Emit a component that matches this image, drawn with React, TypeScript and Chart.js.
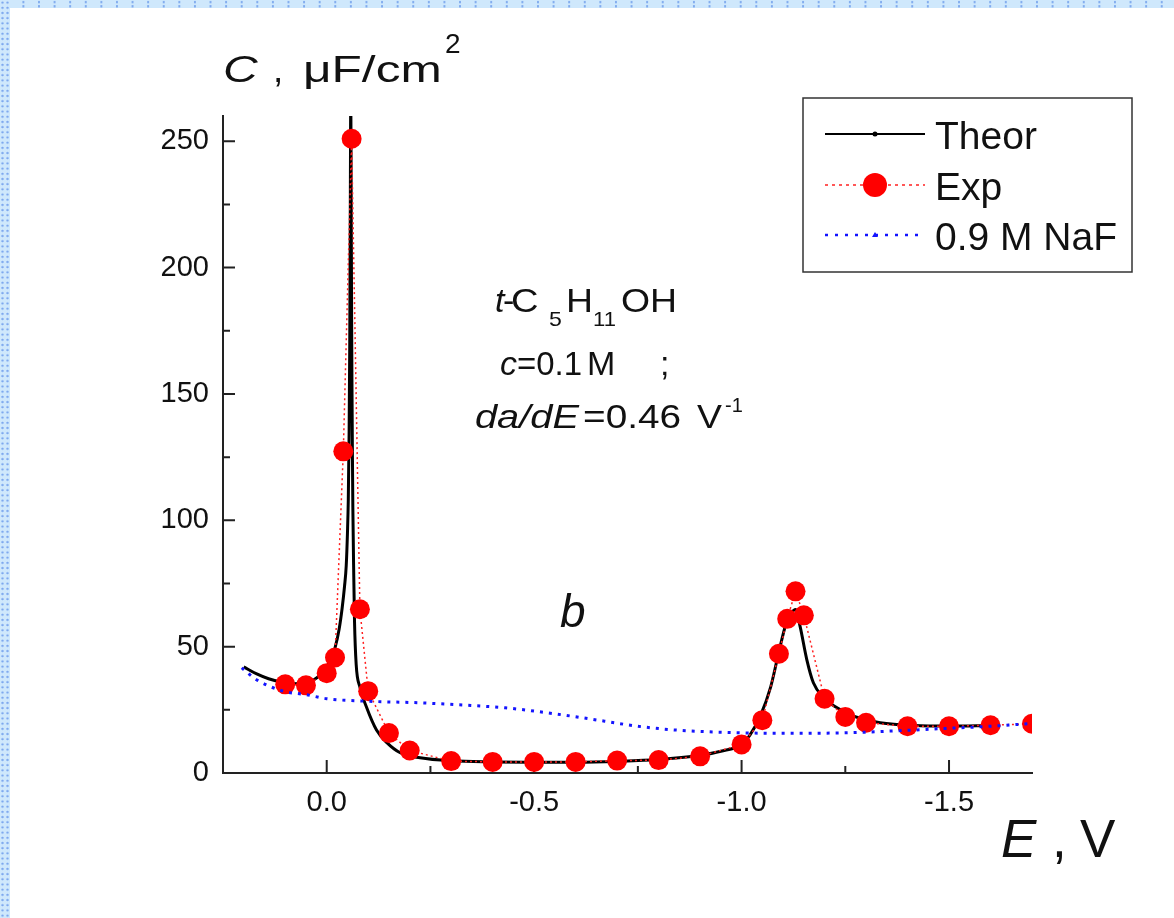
import React, { useEffect, useRef } from "react";
import { Chart, registerables } from "chart.js";

Chart.register(...registerables);

const FONT = "'Liberation Sans', Arial, Helvetica, sans-serif";

// Theoretical curve (E, V ; C, uF/cm2)
const THEOR_E = [0.2, 0.17, 0.14, 0.11, 0.08, 0.05, 0.03, 0.015, 0.0, -0.01, -0.02, -0.03, -0.037, -0.043, -0.047, -0.05, -0.052, -0.054, -0.0555, -0.057, -0.058, -0.059, -0.06, -0.061, -0.062, -0.063, -0.065, -0.067, -0.071, -0.08, -0.096, -0.12, -0.145, -0.177, -0.225, -0.3, -0.4, -0.5, -0.6, -0.7, -0.8, -0.9, -0.95, -1.0, -1.02, -1.045, -1.07, -1.09, -1.107, -1.121, -1.13, -1.141, -1.157, -1.173, -1.198, -1.23, -1.27, -1.334, -1.415, -1.5, -1.6];
const THEOR_C = [42, 39.3, 37.3, 36, 35.3, 35.8, 37, 39, 42, 45, 49.5, 57, 65, 74, 82, 95, 108, 135, 170, 230, 270, 230, 180, 150, 125, 105, 80, 60, 43, 34, 26, 17, 12, 8, 6, 4.8, 4.4, 4.3, 4.3, 4.6, 5.3, 7.0, 8.6, 11.3, 15, 22.5, 34, 48, 59, 63.5, 64.7, 58, 45, 35.7, 29.8, 25.8, 22.5, 19.9, 18.8, 18.6, 18.8];

// Experimental points
const EXP_E = [0.1, 0.05, 0.0, -0.02, -0.04, -0.06, -0.08, -0.1, -0.15, -0.2, -0.3, -0.4, -0.5, -0.6, -0.7, -0.8, -0.9, -1.0, -1.05, -1.09, -1.11, -1.13, -1.15, -1.2, -1.25, -1.3, -1.4, -1.5, -1.6, -1.7];
const EXP_C = [35.1, 34.7, 39.5, 45.7, 127.3, 251, 64.8, 32.4, 15.8, 8.9, 4.7, 4.4, 4.4, 4.4, 4.9, 5.1, 6.6, 11.3, 20.9, 47.2, 61.0, 71.9, 62.4, 29.4, 22.2, 19.9, 18.5, 18.5, 18.9, 19.5];

// 0.9 M NaF background curve
const NAF_E = [0.205, 0.17, 0.105, 0.05, 0.0, -0.1, -0.22, -0.35, -0.43, -0.5, -0.59, -0.67, -0.75, -0.85, -1.0, -1.1, -1.25, -1.4, -1.5, -1.6, -1.7];
const NAF_C = [41.6, 37, 32.4, 31, 29.4, 28.4, 27.8, 26.7, 25.8, 24.5, 22.5, 20.5, 18.5, 16.9, 15.9, 15.7, 15.9, 16.9, 17.7, 18.5, 19.6];

const X_TICKS = [0, -0.5, -1.0, -1.5];
const X_MINOR = [-0.25, -0.75, -1.25];
const Y_TICKS = [0, 50, 100, 150, 200, 250];
const Y_MINOR = [25, 75, 125, 175, 225];

const LEGEND_LABELS = ["Theor", "Exp", "0.9 M NaF"];

function txt(ctx: CanvasRenderingContext2D, s: string, x: number, y: number, size: number, italic = false, sx = 1) {
  ctx.save();
  ctx.font = `${italic ? "italic " : ""}${size}px ${FONT}`;
  ctx.fillStyle = "#111";
  ctx.textBaseline = "alphabetic";
  ctx.textAlign = "left";
  ctx.translate(x, y);
  ctx.scale(sx, 1);
  ctx.fillText(s, 0, 0);
  ctx.restore();
}

const overlay = {
  id: "overlay",
  beforeDatasetsDraw(chart: any) {
    const ctx: CanvasRenderingContext2D = chart.ctx;
    const xs = chart.scales.x;
    const ys = chart.scales.y;
    const { left, bottom } = chart.chartArea;
    ctx.save();
    ctx.strokeStyle = "#222";
    ctx.lineWidth = 2;
    ctx.beginPath();
    Y_TICKS.forEach((v) => {
      const p = ys.getPixelForValue(v);
      ctx.moveTo(left, p);
      ctx.lineTo(left + 12, p);
    });
    Y_MINOR.forEach((v) => {
      const p = ys.getPixelForValue(v);
      ctx.moveTo(left, p);
      ctx.lineTo(left + 7, p);
    });
    X_TICKS.forEach((v) => {
      const p = xs.getPixelForValue(v);
      ctx.moveTo(p, bottom);
      ctx.lineTo(p, bottom - 13);
    });
    X_MINOR.forEach((v) => {
      const p = xs.getPixelForValue(v);
      ctx.moveTo(p, bottom);
      ctx.lineTo(p, bottom - 7);
    });
    ctx.stroke();
    ctx.restore();
  },
  afterDraw(chart: any) {
    const ctx: CanvasRenderingContext2D = chart.ctx;
    // axis titles
    txt(ctx, "C", 223, 82, 37, true, 1.3);
    txt(ctx, ",", 273, 82, 37);
    txt(ctx, "\u03bcF/cm", 303, 82, 37, false, 1.34);
    txt(ctx, "2", 445, 53, 28);

    txt(ctx, "E", 1001, 857, 53, true);
    txt(ctx, ",", 1052, 857, 53);
    txt(ctx, "V", 1080, 857, 53);

    // annotation
    txt(ctx, "t", 495, 312, 34, true);
    txt(ctx, "-", 503, 312, 34);
    txt(ctx, "C", 511, 312, 34, false, 1.12);
    txt(ctx, "5", 549, 326, 21, false, 1.1);
    txt(ctx, "H", 566, 312, 34, false, 1.1);
    txt(ctx, "11", 593, 326, 21, false, 1.05);
    txt(ctx, "OH", 621, 312, 34, false, 1.1);

    txt(ctx, "c", 500, 375, 34, true);
    txt(ctx, "=0.1", 517, 375, 34, false, 0.97);
    txt(ctx, "M", 587, 375, 34);
    txt(ctx, ";", 660, 375, 34);

    txt(ctx, "da/dE", 475, 428, 34, true, 1.17);
    txt(ctx, "=0.46", 583, 428, 34, false, 1.14);
    txt(ctx, "V", 697, 428, 34, false, 1.1);
    txt(ctx, "-1", 725, 412, 20);

    txt(ctx, "b", 560, 627, 46, true);

    // legend
    ctx.save();
    ctx.strokeStyle = "#333";
    ctx.lineWidth = 1.5;
    ctx.strokeRect(803, 98, 329, 174);
    const rows = [134, 185, 235];
    const ds = chart.data.datasets;
    const byLabel = (l: string) => ds.find((d: any) => d.label === l);
    LEGEND_LABELS.forEach((lab, i) => {
      const y = rows[i];
      const d: any = byLabel(lab);
      ctx.save();
      ctx.strokeStyle = d.borderColor;
      if (lab === "Theor") {
        ctx.lineWidth = 2;
        ctx.setLineDash([]);
      } else if (lab === "Exp") {
        ctx.lineWidth = 1.5;
        ctx.setLineDash([3, 4]);
      } else {
        ctx.lineWidth = 2.5;
        ctx.setLineDash([3, 7]);
      }
      ctx.beginPath();
      ctx.moveTo(825, y);
      ctx.lineTo(925, y);
      ctx.stroke();
      ctx.setLineDash([]);
      if (lab === "Theor") {
        ctx.fillStyle = "#000";
        ctx.beginPath();
        ctx.arc(875, y, 2.5, 0, Math.PI * 2);
        ctx.fill();
      } else if (lab === "Exp") {
        ctx.fillStyle = "#ff0000";
        ctx.beginPath();
        ctx.arc(875, y, 12, 0, Math.PI * 2);
        ctx.fill();
      } else {
        ctx.fillStyle = d.borderColor;
        ctx.beginPath();
        ctx.moveTo(875, y - 3);
        ctx.lineTo(878, y + 2);
        ctx.lineTo(872, y + 2);
        ctx.closePath();
        ctx.fill();
      }
      ctx.restore();
      txt(ctx, lab, 935, y + 14.5, 39);
    });
    ctx.restore();
  },
};

export default function App() {
  const ref = useRef<HTMLCanvasElement>(null);
  useEffect(() => {
    const canvas = ref.current!;
    const chart = new Chart(canvas, {
      type: "line",
      data: {
        datasets: [
          {
            label: "0.9 M NaF",
            data: NAF_E.map((e, i) => ({ x: e, y: NAF_C[i] })),
            borderColor: "#1414ff",
            borderWidth: 3,
            borderDash: [3, 6],
            pointRadius: 0,
            cubicInterpolationMode: "monotone",
            order: 0,
            clip: 0,
          } as any,
          {
            label: "Exp",
            data: EXP_E.map((e, i) => ({ x: e, y: EXP_C[i] })),
            borderColor: "#ff2020",
            borderWidth: 1.5,
            borderDash: [2, 3],
            pointRadius: 10,
            pointBackgroundColor: "#ff0000",
            pointBorderWidth: 0,
            pointBorderColor: "#ff0000",
            tension: 0,
            order: 1,
            clip: 0,
          } as any,
          {
            label: "Theor",
            data: THEOR_E.map((e, i) => ({ x: e, y: THEOR_C[i] })),
            borderColor: "#000000",
            borderWidth: 3,
            pointRadius: 0,
            cubicInterpolationMode: "monotone",
            order: 2,
            clip: 0,
          } as any,
        ],
      },
      options: {
        animation: false,
        responsive: false,
        devicePixelRatio: 1,
        layout: { padding: { top: 116, right: 142, left: 0, bottom: 0 } },
        plugins: { legend: { display: false }, tooltip: { enabled: false } },
        scales: {
          x: {
            type: "linear",
            reverse: true,
            min: -1.7,
            max: 0.25,
            afterBuildTicks: (s: any) => {
              s.ticks = X_TICKS.map((v) => ({ value: v }));
            },
            afterFit: (s: any) => {
              s.height = 145;
            },
            grid: { display: false },
            border: { display: true, color: "#222", width: 2 },
            ticks: {
              font: { size: 29, family: FONT },
              color: "#111",
              padding: 5,
              maxRotation: 0,
              autoSkip: false,
              callback: (v: any) => Number(v).toFixed(1),
            },
          },
          y: {
            type: "linear",
            min: 0,
            max: 260,
            afterBuildTicks: (s: any) => {
              s.ticks = Y_TICKS.map((v) => ({ value: v }));
            },
            afterFit: (s: any) => {
              s.width = 223;
            },
            grid: { display: false },
            border: { display: true, color: "#222", width: 2 },
            ticks: {
              font: { size: 29, family: FONT },
              color: "#111",
              padding: 6,
              autoSkip: false,
              callback: (v: any) => String(v),
            },
          },
        },
      } as any,
      plugins: [overlay],
    });
    return () => chart.destroy();
  }, []);

  return (
    <div
      style={{
        position: "fixed",
        left: 0,
        top: 0,
        width: 1174,
        height: 918,
        background: "#ffffff",
        overflow: "hidden",
      }}
    >
      <canvas ref={ref} width={1174} height={918} style={{ position: "absolute", left: 0, top: 0, width: 1174, height: 918 }} />
      <div
        style={{
          position: "absolute",
          left: 0,
          top: 0,
          width: 1174,
          height: 8,
          background:
            "radial-gradient(circle, #7ea9ee 0.9px, rgba(0,0,0,0) 1.4px) 0 0 / 15.6px 4.2px, #cfe8fc",
        }}
      />
      <div
        style={{
          position: "absolute",
          left: 0,
          top: 0,
          width: 10,
          height: 918,
          background:
            "radial-gradient(circle, #7ea9ee 0.9px, rgba(0,0,0,0) 1.4px) 0 0 / 5px 5.2px, #cfe8fc",
        }}
      />
    </div>
  );
}
